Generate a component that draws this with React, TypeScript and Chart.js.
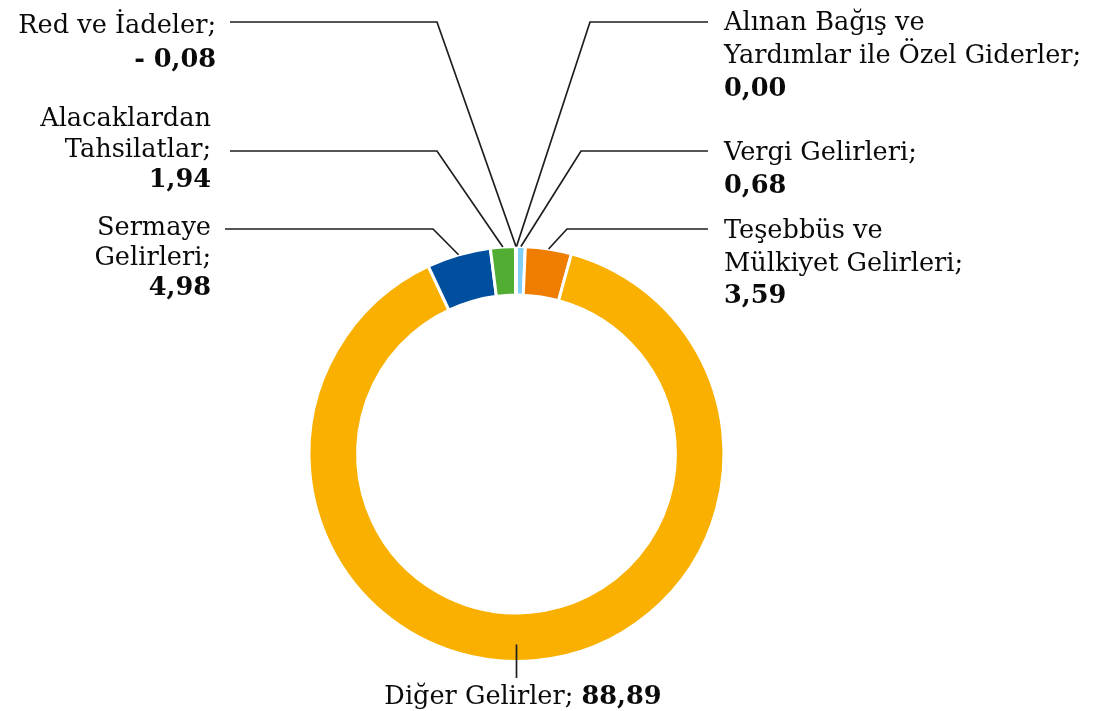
import React, { useEffect, useRef } from "react";
import { Chart, registerables } from "chart.js";

Chart.register(...registerables);

// ---- data ----
const categories = [
  "Vergi Gelirleri",
  "Teşebbüs ve Mülkiyet Gelirleri",
  "Diğer Gelirler",
  "Sermaye Gelirleri",
  "Alacaklardan Tahsilatlar",
  "Red ve İadeler",
  "Alınan Bağış ve Yardımlar ile Özel Giderler",
];
const values = [0.68, 3.59, 88.89, 4.98, 1.94, -0.08, 0.0];
const valueLabels = ["0,68", "3,59", "88,89", "4,98", "1,94", "- 0,08", "0,00"];
const labelLines = [
  ["Vergi Gelirleri;"],
  ["Teşebbüs ve", "Mülkiyet Gelirleri;"],
  ["Diğer Gelirler; "],
  ["Sermaye", "Gelirleri;"],
  ["Alacaklardan", "Tahsilatlar;"],
  ["Red ve İadeler;"],
  ["Alınan Bağış ve", "Yardımlar ile Özel Giderler;"],
];
const colors = ["#82CFF5", "#EF7D00", "#F9B000", "#004F9F", "#52AE32", "#BDBDBD", "#9E9E9E"];

// ---- annotation layout (positions of label text & leader lines) ----
type Layout = {
  side: "left" | "right" | "bottom";
  textX: number;
  baseline: number;
  gap: number;
  elbowX: number;
  elbowY: number;
  hEnd: number;
};
const layouts: Layout[] = [
  { side: "right", textX: 724, baseline: 160, gap: 32.7, elbowX: 581, elbowY: 151, hEnd: 708 },
  { side: "right", textX: 724, baseline: 238, gap: 32.7, elbowX: 567, elbowY: 229, hEnd: 708 },
  { side: "bottom", textX: 523, baseline: 704, gap: 0, elbowX: 0, elbowY: 678, hEnd: 0 },
  { side: "left", textX: 211, baseline: 234.5, gap: 30.3, elbowX: 433, elbowY: 229, hEnd: 225 },
  { side: "left", textX: 211, baseline: 126, gap: 30.5, elbowX: 437, elbowY: 151, hEnd: 230 },
  { side: "left", textX: 216, baseline: 33.3, gap: 33.4, elbowX: 437, elbowY: 22, hEnd: 230 },
  { side: "right", textX: 724, baseline: 30, gap: 33, elbowX: 590, elbowY: 22, hEnd: 708 },
];

const FONT_FAMILY = '"DejaVu Serif", serif';
const FONT_SIZE = 25.6;

const labelPlugin = {
  id: "outerLabels",
  afterDraw(chart: any) {
    const ctx: CanvasRenderingContext2D = chart.ctx;
    const meta = chart.getDatasetMeta(0);
    ctx.save();
    ctx.strokeStyle = "#1e1e1e";
    ctx.lineWidth = 1.7;
    ctx.fillStyle = "#0a0a0a";
    ctx.textBaseline = "alphabetic";
    const normal = `${FONT_SIZE}px ${FONT_FAMILY}`;
    const bold = `bold ${FONT_SIZE}px ${FONT_FAMILY}`;
    meta.data.forEach((arc: any, i: number) => {
      const L = layouts[i];
      const { x, y, startAngle, endAngle, outerRadius } = arc.getProps(
        ["x", "y", "startAngle", "endAngle", "outerRadius"],
        true
      );
      const mid = (startAngle + endAngle) / 2;
      if (L.side === "bottom") {
        const ax = x;
        const ay = y + outerRadius - 17;
        ctx.beginPath();
        ctx.moveTo(ax, ay);
        ctx.lineTo(ax, L.elbowY);
        ctx.stroke();
        ctx.font = normal;
        const w1 = ctx.measureText(labelLines[i][0]).width;
        ctx.font = bold;
        const w2 = ctx.measureText(valueLabels[i]).width;
        const start = L.textX - (w1 + w2) / 2;
        ctx.textAlign = "left";
        ctx.font = normal;
        ctx.fillText(labelLines[i][0], start, L.baseline);
        ctx.font = bold;
        ctx.fillText(valueLabels[i], start + w1, L.baseline);
        return;
      }
      const ax = x + Math.cos(mid) * outerRadius;
      const ay = y + Math.sin(mid) * outerRadius;
      ctx.beginPath();
      ctx.moveTo(ax, ay);
      ctx.lineTo(L.elbowX, L.elbowY);
      ctx.lineTo(L.hEnd, L.elbowY);
      ctx.stroke();
      ctx.textAlign = L.side === "left" ? "right" : "left";
      const lines = labelLines[i];
      lines.forEach((t, k) => {
        ctx.font = normal;
        ctx.fillText(t, L.textX, L.baseline + k * L.gap);
      });
      ctx.font = bold;
      ctx.fillText(valueLabels[i], L.textX, L.baseline + lines.length * L.gap);
    });
    ctx.restore();
  },
};

export default function App() {
  const ref = useRef<HTMLCanvasElement | null>(null);
  useEffect(() => {
    if (!ref.current) return;
    const chart = new Chart(ref.current, {
      type: "doughnut",
      data: {
        labels: categories,
        datasets: [
          {
            data: values,
            backgroundColor: colors,
            borderColor: "#ffffff",
            borderWidth: 3,
          },
        ],
      },
      options: {
        animation: false,
        responsive: true,
        maintainAspectRatio: false,
        radius: 207.5,
        cutout: "76.6%",
        layout: { padding: { left: 0, right: 67, top: 197, bottom: 0 } },
        plugins: {
          legend: { display: false },
          tooltip: { enabled: false },
        },
      } as any,
      plugins: [labelPlugin],
    });
    return () => chart.destroy();
  }, []);
  return (
    <div style={{ position: "absolute", left: 0, top: 0, width: 1100, height: 711, background: "#fff" }}>
      <canvas ref={ref} />
    </div>
  );
}
